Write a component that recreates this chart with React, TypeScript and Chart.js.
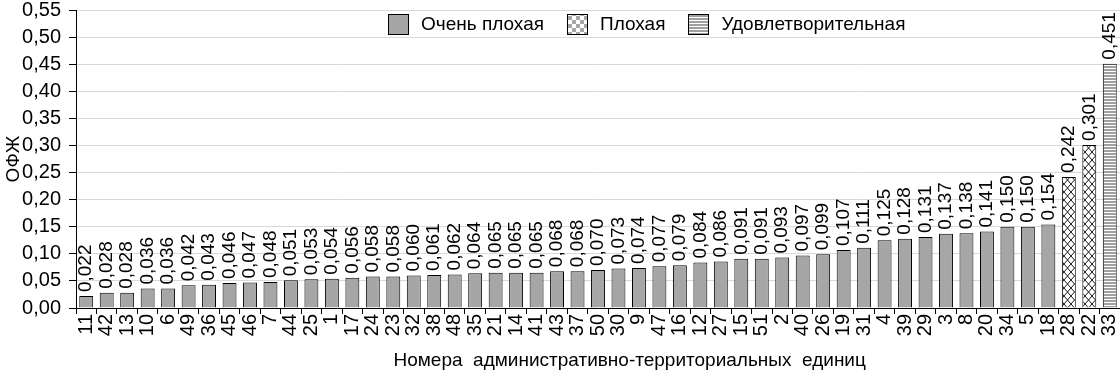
import React, { useEffect, useRef } from "react";
import { Chart, registerables } from "chart.js";

Chart.register(...registerables);

const categories = ["11","42","13","10","6","49","36","45","46","7","44","25","1","17","24","23","32","38","48","35","21","14","41","43","37","50","30","9","47","16","12","27","15","51","2","40","26","19","31","4","39","29","3","8","20","34","5","18","28","22","33"];
const values = [0.022,0.028,0.028,0.036,0.036,0.042,0.043,0.046,0.047,0.048,0.051,0.053,0.054,0.056,0.058,0.058,0.060,0.061,0.062,0.064,0.065,0.065,0.065,0.068,0.068,0.070,0.073,0.074,0.077,0.079,0.084,0.086,0.091,0.091,0.093,0.097,0.099,0.107,0.111,0.125,0.128,0.131,0.137,0.138,0.141,0.150,0.150,0.154,0.242,0.301,0.451];
const groups = ["Очень плохая","Очень плохая","Очень плохая","Очень плохая","Очень плохая","Очень плохая","Очень плохая","Очень плохая","Очень плохая","Очень плохая","Очень плохая","Очень плохая","Очень плохая","Очень плохая","Очень плохая","Очень плохая","Очень плохая","Очень плохая","Очень плохая","Очень плохая","Очень плохая","Очень плохая","Очень плохая","Очень плохая","Очень плохая","Очень плохая","Очень плохая","Очень плохая","Очень плохая","Очень плохая","Очень плохая","Очень плохая","Очень плохая","Очень плохая","Очень плохая","Очень плохая","Очень плохая","Очень плохая","Очень плохая","Очень плохая","Очень плохая","Очень плохая","Очень плохая","Очень плохая","Очень плохая","Очень плохая","Очень плохая","Очень плохая","Плохая","Плохая","Удовлетворительная"];
const seriesNames = ["Очень плохая", "Плохая", "Удовлетворительная"];
const yTicks = [0, 0.05, 0.1, 0.15, 0.2, 0.25, 0.3, 0.35, 0.4, 0.45, 0.5, 0.55];

const FONT = "'Liberation Sans', Arial, sans-serif";
const fmt = (v: number, d: number) => v.toFixed(d).replace(".", ",");

function crossPattern(ctx: CanvasRenderingContext2D) {
  const w = 7, h = 8;
  const c = document.createElement("canvas");
  c.width = w; c.height = h;
  const g = c.getContext("2d")!;
  g.fillStyle = "#fff"; g.fillRect(0, 0, w, h);
  g.strokeStyle = "#000"; g.lineWidth = 0.9;
  g.beginPath();
  g.moveTo(0, 0); g.lineTo(w, h);
  g.moveTo(w, 0); g.lineTo(0, h);
  g.stroke();
  return ctx.createPattern(c, "repeat")!;
}
function checkerPattern(ctx: CanvasRenderingContext2D) {
  const c = document.createElement("canvas");
  c.width = 8; c.height = 8;
  const g = c.getContext("2d")!;
  g.fillStyle = "#fff"; g.fillRect(0, 0, 8, 8);
  g.fillStyle = "#a8a8a8";
  g.fillRect(0, 0, 4, 4); g.fillRect(4, 4, 4, 4);
  return ctx.createPattern(c, "repeat")!;
}
function stripePattern(ctx: CanvasRenderingContext2D) {
  const c = document.createElement("canvas");
  c.width = 4; c.height = 3;
  const g = c.getContext("2d")!;
  g.fillStyle = "#fff"; g.fillRect(0, 0, 4, 3);
  g.fillStyle = "#a0a0a0"; g.fillRect(0, 0, 4, 2);
  return ctx.createPattern(c, "repeat")!;
}

const labelPlugin = {
  id: "valueLabels",
  afterDatasetsDraw(chart: any) {
    const ctx = chart.ctx;
    ctx.save();
    ctx.font = `19px ${FONT}`;
    ctx.fillStyle = "#000";
    ctx.textAlign = "left";
    ctx.textBaseline = "middle";
    chart.data.datasets.forEach((ds: any, i: number) => {
      const meta = chart.getDatasetMeta(i);
      meta.data.forEach((el: any, j: number) => {
        const v = ds.data[j];
        if (v == null) return;
        ctx.save();
        ctx.translate(el.x, el.y - 4);
        ctx.rotate(-Math.PI / 2);
        ctx.fillText(fmt(v, 3), 0, 0);
        ctx.restore();
      });
    });
    ctx.restore();
  },
};

const legendPlugin = {
  id: "customLegend",
  afterDraw(chart: any) {
    const ctx = chart.ctx;
    ctx.save();
    ctx.font = `19px ${FONT}`;
    ctx.textBaseline = "middle";
    ctx.textAlign = "left";
    const box = 21, gapText = 12, gapItem = 23;
    const legendFills = [chart.data.datasets[0].backgroundColor, checkerPattern(ctx), chart.data.datasets[2].backgroundColor];
    let total = 0;
    chart.data.datasets.forEach((ds: any, i: number) => {
      total += box + gapText + ctx.measureText(ds.label).width + (i < chart.data.datasets.length - 1 ? gapItem : 0);
    });
    const ca = chart.chartArea;
    let x = Math.round(ca.left + (ca.right - ca.left) * 0.547 - total / 2);
    const y = ca.top + 14;
    chart.data.datasets.forEach((ds: any, i: number) => {
      const bx = Math.round(x), by = Math.round(y - box / 2);
      ctx.fillStyle = legendFills[i];
      ctx.fillRect(bx, by, box, box);
      ctx.strokeStyle = "#000";
      ctx.lineWidth = 1;
      ctx.strokeRect(bx + 0.5, by + 0.5, box - 1, box - 1);
      x += box + gapText;
      ctx.fillStyle = "#000";
      ctx.fillText(ds.label, x, y + 1);
      x += ctx.measureText(ds.label).width + gapItem;
    });
    ctx.restore();
  },
};

export default function App() {
  const ref = useRef<HTMLCanvasElement>(null);
  useEffect(() => {
    document.body.style.margin = "0";
    const canvas = ref.current!;
    const ctx = canvas.getContext("2d")!;
    const fills = ["#a6a6a6", crossPattern(ctx), stripePattern(ctx)];
    const datasets = seriesNames.map((name, k) => ({
      label: name,
      data: values.map((v, i) => (groups[i] === name ? v : null)),
      backgroundColor: fills[k] as any,
      borderColor: "#000",
      borderWidth: 1,
      barPercentage: 0.68,
      categoryPercentage: 1,
    }));
    const chart = new Chart(canvas, {
      type: "bar",
      data: { labels: categories, datasets },
      options: {
        responsive: false,
        devicePixelRatio: 1,
        animation: false,
        layout: { padding: { top: 10, right: 0, left: 0, bottom: 0 } },
        plugins: { legend: { display: false }, tooltip: { enabled: false } },
        scales: {
          x: {
            stacked: true,
            ticks: { autoSkip: false, minRotation: 90, maxRotation: 90, color: "#000", font: { size: 20, family: FONT }, padding: 0 },
            grid: { drawOnChartArea: false, drawTicks: true, tickLength: 6, tickColor: "#000", offset: true },
            border: { color: "#000" },
            title: { display: true, text: "            Номера  административно-территориальных  единиц", color: "#000", font: { size: 19, family: FONT }, padding: { top: 0, bottom: 0 } },
            afterFit: (axis: any) => {
              axis.height = 64;
              axis.paddingLeft = 0;
              axis.paddingRight = 0;
            },
          },
          y: {
            stacked: true,
            min: 0,
            max: 0.55,
            afterBuildTicks: (axis: any) => { axis.ticks = yTicks.map((v) => ({ value: v })); },
            ticks: { autoSkip: false, color: "#000", font: { size: 20, family: FONT, lineHeight: 1 }, padding: 8, callback: (v: any) => fmt(Number(v), 2) },
            grid: { color: "#d9d9d9", tickColor: "#000", tickLength: 7, drawTicks: true },
            border: { color: "#000" },
            title: { display: true, text: "ОФЖ", color: "#000", font: { size: 19, family: FONT }, padding: { top: 2, bottom: 0 } },
            afterFit: (axis: any) => {
              axis.width = 76;
              axis.paddingTop = 0;
              axis.paddingBottom = 0;
            },
          },
        },
      },
      plugins: [labelPlugin, legendPlugin],
    });
    return () => chart.destroy();
  }, []);
  return <canvas ref={ref} width={1120} height={372} style={{ display: "block" }} />;
}
